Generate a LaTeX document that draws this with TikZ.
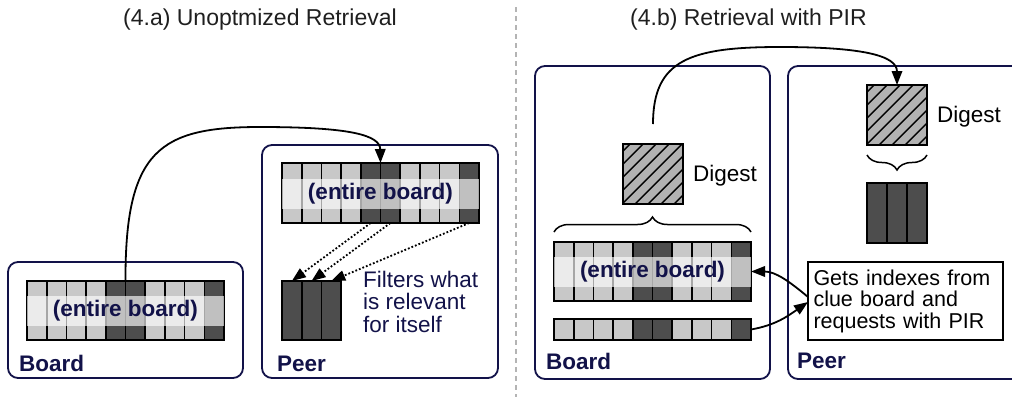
\documentclass[tikz,border=0pt]{standalone}
\usepackage{fontspec}
\setmainfont{Liberation Sans}
\usetikzlibrary{arrows.meta,decorations.pathreplacing}
\definecolor{navy}{HTML}{121249}
\definecolor{cellLc}{HTML}{C8C8C8}
\definecolor{cellDc}{HTML}{4D4D4D}
\definecolor{hatchc}{HTML}{B2B2B2}
\definecolor{sepc}{HTML}{B4B4B4}
\newcommand\myfont[1]{\fontsize{#1}{#1}\selectfont}
\begin{document}
\begin{tikzpicture}[x=1pt,y=-1pt,
  panel/.style={draw=navy,line width=1.8pt,rounded corners=10pt},
  cellbase/.style={draw=black,line width=1.6pt,inner sep=0pt,outer sep=0pt,minimum width=19.7pt},
  stripe/.style={fill=white,fill opacity=0.65,text opacity=1,text=navy,inner sep=0pt,minimum width=197pt,minimum height=30pt,font=\myfont{22.5}\bfseries},
  lbl/.style={text=navy,font=\myfont{22.5}\bfseries,inner sep=0pt,anchor=base west},
  ttl/.style={text=black!88,font=\myfont{23},inner sep=0pt,anchor=base west},
  txtplain/.style={font=\myfont{22.5},inner sep=0pt,anchor=base west},
  digest/.style={draw=black,line width=1.5pt,fill=hatchc,minimum size=60pt,inner sep=0pt,outer sep=0pt,
    path picture={\foreach \k in {-53,-40,...,60} {\draw[line width=1.4pt] ([xshift=\k pt]path picture bounding box.south west) -- ++(60,-60);}}},
  conn/.style={draw=black,line width=1.8pt,-{Triangle[length=14pt,width=10.5pt]}},
  dotarrow/.style={conn,dotted},
  brc/.style={draw=black,line width=1.5pt,decorate,decoration={brace,amplitude=15pt}},
]
\useasboundingbox (0,0) rectangle (1012,397);
\clip (0,0) rectangle (1012,397);
% titles and separator
\node[ttl] (ta) at (123,25) {(4.a) Unoptmized Retrieval};
\node[ttl] (tb) at (630,25) {(4.b) Retrieval with PIR};
\coordinate (s1) at (516,7);
\coordinate (s2) at (516,397);
\draw[sepc,line width=1.5pt,dash pattern=on 5pt off 4pt] (s1) -- (s2);
% panels
\draw[panel] (8,262) rectangle (243,378);
\draw[panel] (262,145) rectangle (498,378);
\draw[panel] (535,66) rectangle (770,379);
\draw[panel] (788,66) rectangle (1040,379);
% board rows
\foreach \c [count=\i] in {L,L,L,L,D,D,L,L,L,D} {
  \node[cellbase,fill=cell\c c,minimum height=59pt] (ab\i) at (27+\i*19.7-9.85,310.5) {};
  \node[cellbase,fill=cell\c c,minimum height=60pt] (pb\i) at (282+\i*19.7-9.85,193) {};
  \node[cellbase,fill=cell\c c,minimum height=59pt] (bb\i) at (554+\i*19.7-9.85,271.5) {};
  \node[cellbase,fill=cell\c c,minimum height=21pt] (cr\i) at (554+\i*19.7-9.85,329.5) {};
}
\foreach \i in {1,2,3} {
  \node[cellbase,fill=cellDc,minimum height=59pt] (pf\i) at (282+\i*19.7-9.85,310.5) {};
  \node[cellbase,fill=cellDc,minimum height=60pt,minimum width=20pt] (qf\i) at (867+\i*20-10,213) {};
}
% stripes
\node[stripe] (abt) at (125.5,311) {(entire board)};
\node[stripe] (pbt) at (380.5,194) {(entire board)};
\node[stripe] (bbt) at (652.5,272) {(entire board)};
% labels
\node[lbl] (lba) at (19,371) {Board};
\node[lbl] (lpa) at (277,371) {Peer};
\node[lbl] (lbb) at (546,369) {Board};
\node[lbl] (lpb) at (797,368) {Peer};
\node[text=navy,font=\myfont{22.5},inner sep=0pt,anchor=north west,align=left] (flt) at (363,270.5) {Filters what\\is relevant\\for itself};
% digests
\node[digest] (dg1) at (653,174) {};
\node[digest] (dg2) at (897,115) {};
\node[txtplain] (dl1) at (693,181) {Digest};
\node[txtplain] (dl2) at (937,122) {Digest};
% braces
\draw[brc] ([yshift=10pt]bb1.north west) -- ([yshift=10pt]bb10.north east);
\draw[brc] ([yshift=-10pt]dg2.south east) -- ([yshift=-10pt]dg2.south west);
% text box
\node[draw=black,line width=1.5pt,text width=184pt,inner xsep=5.5pt,inner ysep=6pt,outer sep=0pt,align=left,anchor=north west,font=\myfont{21.5},minimum height=78pt] (gx) at (808,262) {Gets indexes from\\clue board and\\requests with PIR};
% connectors
\draw[conn] (ab5.north east) .. controls (125,150) and (160,127) .. (260,127) .. controls (350,127) and (380,135) .. (pb5.north east);
\coordinate (dgout) at (653,124);
\draw[conn] (dgout) .. controls (653,60) and (690,47) .. (780,47) .. controls (860,47) and (897,55) .. (dg2.north);
\draw[conn] ([yshift=4pt]gx.west) to[out=140,in=0] (bb10.east);
\draw[conn] (cr10.east) to[out=10,in=215] ([yshift=-1pt]gx.west);
\draw[dotarrow] (pb5.south) -- (pf1.north);
\draw[dotarrow] (pb6.south) -- (pf2.north);
\draw[dotarrow] (pb10.south) -- (pf3.north);
\end{tikzpicture}
\end{document}
